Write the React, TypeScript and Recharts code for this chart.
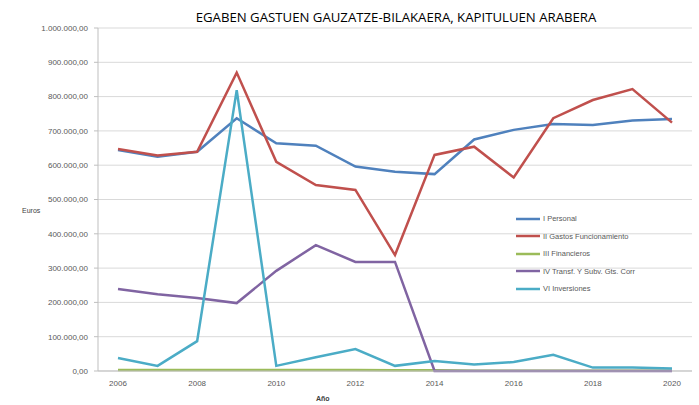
import React from 'react';
import { LineChart, Line, XAxis, YAxis, CartesianGrid } from 'recharts';

const years = ['2006', '2007', '2008', '2009', '2010', '2011', '2012', '2013', '2014', '2015', '2016', '2017', '2018', '2019', '2020'];
const personal = [644000, 625000, 639000, 737000, 664000, 657000, 596000, 581000, 574000, 675000, 703000, 720000, 717000, 730000, 735000];
const funcionamiento = [647000, 628000, 639000, 870000, 610000, 542000, 528000, 338000, 630000, 654000, 564000, 737000, 790000, 822000, 724000];
const financieros = [3000, 3000, 3000, 3000, 3000, 3000, 3000, 2000, 2000, 1000, 1000, 1000, 1000, 1000, 1000];
const transferencias = [239000, 224000, 213000, 198000, 292000, 367000, 318000, 318000, 0, 0, 0, 0, 0, 0, 0];
const inversiones = [38000, 15000, 87000, 819000, 15000, 40000, 64000, 15000, 29000, 19000, 26000, 47000, 10000, 10000, 7000];
const yTicks = [0, 100000, 200000, 300000, 400000, 500000, 600000, 700000, 800000, 900000, 1000000];

const series = [
    { key: 'personal', name: 'I Personal', color: '#4F81BD' },
    { key: 'funcionamiento', name: 'II Gastos Funcionamiento', color: '#C0504D' },
    { key: 'financieros', name: 'III Financieros', color: '#9BBB59' },
    { key: 'transferencias', name: 'IV Transf. Y Subv. Gts. Corr', color: '#8064A2' },
    { key: 'inversiones', name: 'VI Inversiones', color: '#4BACC6' },
];

const data = years.map((year, i) => ({
    year,
    personal: personal[i],
    funcionamiento: funcionamiento[i],
    financieros: financieros[i],
    transferencias: transferencias[i],
    inversiones: inversiones[i],
}));

// 1000000 -> "1.000.000,00"
const formatEuro = (v: number) => String(Math.round(v)).replace(/\B(?=(\d{3})+(?!\d))/g, '.') + ',00';

const font = 'Liberation Sans, Arial, sans-serif';

const LegendBox = () => (
    <div style={{ position: 'absolute', left: 516, top: 210, fontFamily: font, fontSize: 7.5, color: '#595959' }}>
        {series.map(s => (
            <div key={s.key} style={{ display: 'flex', alignItems: 'center', height: 17.5 }}>
                <svg width={24} height={4} style={{ marginRight: 3 }}>
                    <line x1={0} y1={2} x2={24} y2={2} stroke={s.color} strokeWidth={2.5} />
                </svg>
                <span>{s.name}</span>
            </div>
        ))}
    </div>
);

export default function App() {
    return (
        <div style={{ position: 'absolute', left: 0, top: 0, width: 699, height: 405, background: '#fff' }}>
            <LineChart width={699} height={405} data={data} margin={{ top: 28, right: 7, bottom: 14, left: 0 }}>
                <CartesianGrid vertical={false} stroke="#D9D9D9" />
                <XAxis
                    dataKey="year"
                    interval={1}
                    padding={{ left: 20, right: 20 }}
                    stroke="#BFBFBF"
                    tickLine={false}
                    height={20}
                    tick={{ fontSize: 8, fill: '#595959', fontFamily: font }}
                    tickMargin={3}
                />
                <YAxis
                    domain={[0, 1000000]}
                    ticks={yTicks}
                    width={98}
                    stroke="#BFBFBF"
                    tickSize={4}
                    tickMargin={6}
                    tickFormatter={formatEuro}
                    tick={{ fontSize: 8, fill: '#595959', fontFamily: font }}
                />
                {series.map(s => (
                    <Line
                        key={s.key}
                        dataKey={s.key}
                        name={s.name}
                        stroke={s.color}
                        strokeWidth={2.5}
                        dot={false}
                        isAnimationActive={false}
                    />
                ))}
            </LineChart>
            <div style={{ position: 'absolute', left: 96, width: 600, top: 8, textAlign: 'center', fontFamily: 'Open Sans, sans-serif', fontSize: 13.2, color: '#000' }}>
                EGABEN GASTUEN GAUZATZE-BILAKAERA, KAPITULUEN ARABERA
            </div>
            <div style={{ position: 'absolute', left: 22, top: 207, fontFamily: font, fontSize: 7, color: '#404040' }}>Euros</div>
            <div style={{ position: 'absolute', left: 316, top: 395, fontFamily: font, fontSize: 7, color: '#404040', fontWeight: 'bold' }}>Año</div>
            <LegendBox />
        </div>
    );
}
